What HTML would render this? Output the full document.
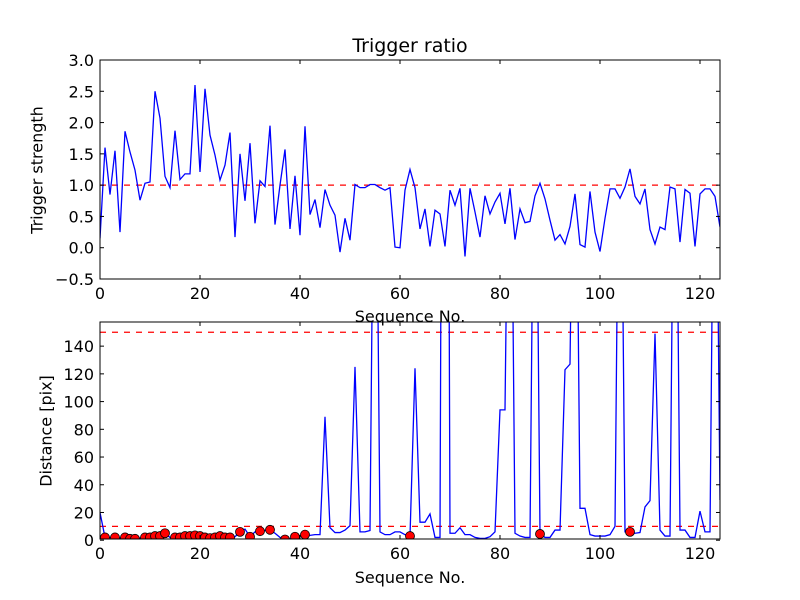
<!DOCTYPE html>
<html><head><meta charset="utf-8"><style>
body{margin:0;background:#fff;}
svg{display:block;font-family:"DejaVu Sans","Liberation Sans",sans-serif;}
</style></head><body>
<svg id="chart" width="800" height="600" viewBox="0 0 800 600">
<defs>
<clipPath id="c1"><rect x="100" y="60" width="620" height="219"/></clipPath>
<clipPath id="c2"><rect x="100" y="322" width="620" height="217"/></clipPath>
</defs>
<rect width="800" height="600" fill="#fff"/>
</svg>
<script>
const strength=[0.15,1.6,0.85,1.55,0.25,1.86,1.53,1.24,0.76,1.03,1.05,2.5,2.07,1.14,0.96,1.87,1.09,1.18,1.18,2.6,1.21,2.54,1.8,1.48,1.08,1.32,1.84,0.17,1.5,0.75,1.67,0.39,1.07,0.98,1.95,0.37,1.0,1.57,0.3,1.15,0.2,1.94,0.53,0.77,0.32,0.93,0.68,0.52,-0.07,0.47,0.12,1.01,0.96,0.96,1.01,1.01,0.96,0.92,0.96,0.01,0.0,0.92,1.25,0.96,0.3,0.62,0.02,0.6,0.54,0.02,0.92,0.68,0.95,-0.14,0.95,0.57,0.17,0.83,0.54,0.73,0.87,0.38,0.95,0.13,0.62,0.4,0.42,0.83,1.03,0.78,0.44,0.12,0.21,0.06,0.34,0.86,0.05,0.01,0.9,0.25,-0.06,0.47,0.94,0.94,0.79,0.97,1.26,0.82,0.7,0.94,0.29,0.06,0.33,0.29,0.97,0.94,0.09,0.93,0.87,0.02,0.86,0.94,0.94,0.82,0.33];
const distance=[20,2,2,2,1.5,2,1,1,1.5,2,2,3,3,5,2,2,2,3,3,3.5,3,2,1.5,2,3,2,2,2.5,6,8,2.5,6,6.5,7,7.5,5,2,0.5,1,2.5,3,4,3.5,4,4,89,9,5.5,5.5,7.3,10.5,125,6,6,7,400,6,4,4,6,6,4,3,124,13,13,19,2,2,1000,5,5,9,4,4,2,1.3,1.3,2.5,6,94,94,400,5,3,2,2,400,4.5,2,2,7.3,7.3,123,127,400,23,23,4,3,3,3,4,10,400,6,6,5,5.5,24,28.5,149,7.3,3,3,400,7.3,7.3,2,2,21,6,6,400,29];
const markerIdx=[1,3,5,6,7,9,10,11,12,13,15,16,17,18,19,20,21,22,23,24,25,26,28,30,32,34,37,39,41,62,88,106];
const xTicks=[0,20,40,60,80,100,120];
const yTicksTop=[-0.5,0,0.5,1,1.5,2,2.5,3];
const yTicksBot=[0,20,40,60,80,100,120,140];
const thresholdTop=[1];
const thresholdBot=[10,150];

const NS="http://www.w3.org/2000/svg";
const svg=document.getElementById('chart');
function mk(t,a,p){const e=document.createElementNS(NS,t);for(const k in a)e.setAttribute(k,a[k]);(p||svg).appendChild(e);return e;}
const X0=100,X1=720,XMAX=124;
const xs=v=>X0+(v/XMAX)*(X1-X0);
const yTop=v=>279-(v+0.5)/3.5*219;
const yBot=v=>540.2-v*(217.9/157.2);

function frame(top,bot,name){
  const r=mk('rect',{x:X0,y:top,width:X1-X0,height:bot-top,fill:'none',stroke:'#000','stroke-width':1});
  
  
}
function axes(top,bot,yf,yt,fmt,name){
  xTicks.forEach(t=>{
    const x=xs(t);
    mk('line',{x1:x,y1:bot,x2:x,y2:bot-4,stroke:'#000'});
    mk('line',{x1:x,y1:top,x2:x,y2:top+4,stroke:'#000'});
    const tx=mk('text',{x:x,y:bot+20,'text-anchor':'middle','font-size':16});
    tx.textContent=t;
    
    
  });
  yt.forEach(t=>{
    const y=yf(t);
    mk('line',{x1:X0,y1:y,x2:X0+4,y2:y,stroke:'#000'});
    mk('line',{x1:X1,y1:y,x2:X1-4,y2:y,stroke:'#000'});
    const tx=mk('text',{x:X0-6,y:y+6,'text-anchor':'end','font-size':16});
    tx.textContent=fmt(t);
    
    
  });
}
function line(arr,yf,clip,name){
  const p=mk('polyline',{points:arr.map((v,i)=>xs(i)+','+yf(v)).join(' '),fill:'none',stroke:'#0000ff','stroke-width':1.3,'clip-path':'url(#'+clip+')'});
  
  
}
function hline(v,yf,clip){
  const l=mk('line',{x1:X0,x2:X1,y1:yf(v),y2:yf(v),stroke:'#ff0000','stroke-width':1.3,'stroke-dasharray':'6,6','clip-path':'url(#'+clip+')'});
  
  
}
thresholdTop.forEach(v=>hline(v,yTop,'c1'));
line(strength,yTop,'c1','strength-line');
frame(60,279,'top-axes');
axes(60,279,yTop,yTicksTop,t=>t<0?'\u2212'+Math.abs(t).toFixed(1):t.toFixed(1),'top');
thresholdBot.forEach(v=>hline(v,yBot,'c2'));
line(distance,yBot,'c2','distance-line');
markerIdx.forEach(i=>{
  const c=mk('circle',{cx:xs(i),cy:yBot(distance[i]),r:4.5,fill:'#ff0000',stroke:'#000','stroke-width':0.8,'clip-path':'url(#c2)'});
  
  
});
frame(322,539,'bottom-axes');
axes(322,539,yBot,yTicksBot,t=>String(t),'bottom');
</script>
<div style="position:absolute;left:0;top:0;width:800px;height:600px;pointer-events:none;font-family:'DejaVu Sans','Liberation Sans',sans-serif;">
<div style="position:absolute;left:0;width:820px;top:35px;text-align:center;font-size:19px;">Trigger ratio</div>
<div style="position:absolute;left:0;width:820px;top:307px;text-align:center;font-size:16px;">Sequence No.</div>
<div style="position:absolute;left:0;width:820px;top:568px;text-align:center;font-size:16px;">Sequence No.</div>
<div style="position:absolute;left:37px;top:170px;font-size:16px;white-space:nowrap;transform:translate(-50%,-50%) rotate(-90deg);">Trigger strength</div>
<div style="position:absolute;left:46px;top:431px;font-size:16px;white-space:nowrap;transform:translate(-50%,-50%) rotate(-90deg);">Distance [pix]</div>
</div>
</body></html>
